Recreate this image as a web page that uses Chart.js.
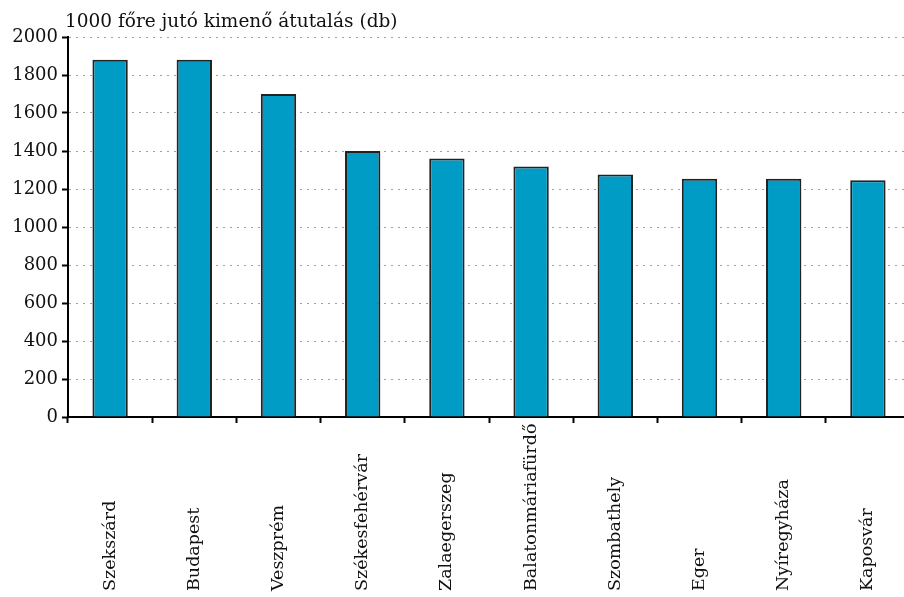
<!DOCTYPE html>
<html>
<head>
<meta charset="utf-8">
<script src="https://cdn.jsdelivr.net/npm/chart.js@4/dist/chart.umd.min.js"></script>
<style>
  html, body { margin: 0; padding: 0; background: #fff; overflow: hidden; }
  #wrap { width: 912px; height: 597px; }
</style>
</head>
<body>
<div id="wrap"><canvas id="chart" width="912" height="597"></canvas></div>
<script>
// data
const cities = ["Szekszárd", "Budapest", "Veszprém", "Székesfehérvár", "Zalaegerszeg",
  "Balatonmáriafürdő", "Szombathely", "Eger", "Nyíregyháza", "Kaposvár"];
const transfers = [1880, 1880, 1700, 1400, 1360, 1318, 1276, 1254, 1254, 1246];
const yTicks = [0, 200, 400, 600, 800, 1000, 1200, 1400, 1600, 1800, 2000];
const titleText = "1000 főre jutó kimenő átutalás (db)";

const FONT = '"DejaVu Serif", "Liberation Serif", serif';

// labels in the reference start at the bottom edge and run upward,
// Chart.js anchors rotated labels at the axis, so draw them here
const sideLabels = {
  id: "sideLabels",
  afterDraw(chart) {
    const ctx = chart.ctx;
    const xs = chart.scales.x;
    ctx.save();
    ctx.fillStyle = "#111";
    ctx.font = "17.5px " + FONT;
    ctx.textAlign = "left";
    ctx.textBaseline = "middle";
    cities.forEach((name, i) => {
      ctx.save();
      ctx.translate(xs.getPixelForTick(i), chart.height - 6);
      ctx.rotate(-Math.PI / 2);
      ctx.fillText(name, 0, 0);
      ctx.restore();
    });
    ctx.font = "18.5px " + FONT;
    ctx.textBaseline = "alphabetic";
    ctx.fillText(titleText, 65, 27);
    ctx.restore();
  }
};

new Chart(document.getElementById("chart"), {
  type: "bar",
  data: {
    labels: cities,
    datasets: [{
      data: transfers,
      backgroundColor: "#009cc5",
      borderColor: "#222",
      borderWidth: 2,
      barPercentage: 0.42,
      categoryPercentage: 1
    }]
  },
  options: {
    responsive: false,
    animation: false,
    layout: { padding: { top: 37, right: 2, left: 0, bottom: 0 } },
    plugins: {
      legend: { display: false },
      tooltip: { enabled: false }
    },
    scales: {
      x: {
        offset: true,
        grid: {
          drawOnChartArea: false,
          tickLength: 6,
          tickColor: "#000",
          tickWidth: 2
        },
        border: { color: "#000", width: 2 },
        ticks: { display: false },
        afterFit(scale) { scale.height = 180; }
      },
      y: {
        min: 0,
        max: 2000,
        afterBuildTicks(scale) {
          scale.ticks = yTicks.map(v => ({ value: v }));
        },
        grid: {
          color: "#a0a0a0",
          lineWidth: 1,
          tickLength: 6,
          tickColor: "#000",
          tickWidth: 2,
          tickBorderDash: []
        },
        border: { color: "#000", width: 2, dash: [2, 5] },
        ticks: {
          color: "#111",
          padding: 4,
          font: { family: FONT, size: 18 },
          callback: v => String(v)
        },
        afterFit(scale) { scale.width = 68; }
      }
    }
  },
  plugins: [sideLabels]
});
</script>
</body>
</html>
